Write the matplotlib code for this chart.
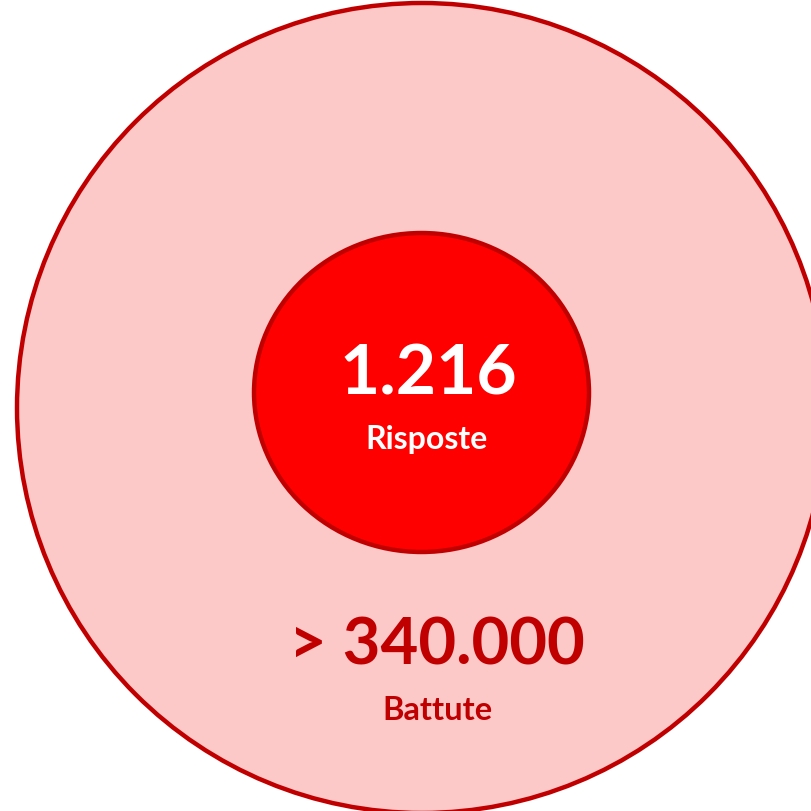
import matplotlib.pyplot as plt
from matplotlib.patches import Circle, Ellipse

# labels shown in the two circles
inner_value = "1.216"
inner_label = "Risposte"
outer_value = "> 340.000"
outer_label = "Battute"

dark_red = "#C00000"

fig = plt.figure(figsize=(8.11, 8.12), dpi=100)
ax = fig.add_axes([0, 0, 1, 1])
ax.set_xlim(0, 811)
ax.set_ylim(812, 0)
ax.axis("off")

# outer circle
ax.add_patch(Circle((422, 409), 405, facecolor="#FCC8C8",
                    edgecolor=dark_red, linewidth=3.2))
# inner circle
ax.add_patch(Ellipse((421.5, 393.5), 335, 319, facecolor="#FF0000",
                     edgecolor=dark_red, linewidth=3.2))

font = "Lato"
ax.text(428, 395, inner_value, color="white", fontsize=50, fontweight="bold",
        family=font, ha="center", va="baseline")
ax.text(427, 449, inner_label, color="white", fontsize=23, fontweight="bold",
        family=font, ha="center", va="baseline")
ax.text(437, 665, outer_value, color=dark_red, fontsize=47, fontweight="bold",
        family=font, ha="center", va="baseline")
ax.text(437, 720, outer_label, color=dark_red, fontsize=23.5, fontweight="bold",
        family=font, ha="center", va="baseline")

plt.savefig("out.png", dpi=100)
